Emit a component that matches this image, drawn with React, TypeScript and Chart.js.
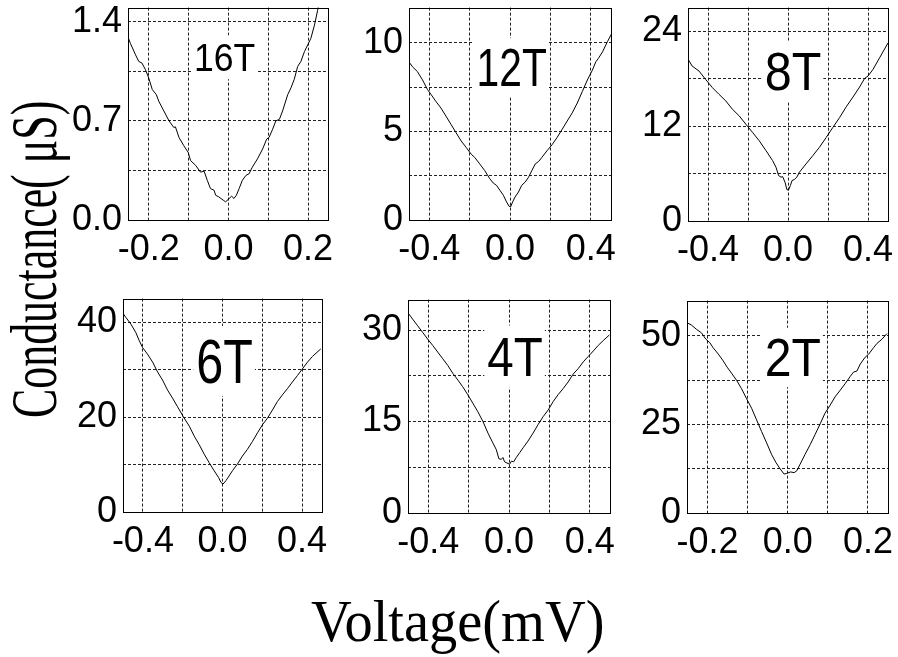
import React, { useEffect, useRef } from "react";
import { Chart, registerables } from "chart.js";

Chart.register(...registerables);

// Tunneling conductance traces: bias voltage (mV) and conductance (μS) at each field.
const v16T = [-0.254, -0.246, -0.233, -0.225, -0.217, -0.208, -0.2, -0.191, -0.181, -0.175, -0.162, -0.149, -0.137, -0.133, -0.124, -0.112, -0.101, -0.095, -0.082, -0.07, -0.061, -0.053, -0.045, -0.036, -0.032, -0.024, -0.013, -0.007, 0.002, 0.008, 0.014, 0.02, 0.027, 0.035, 0.044, 0.052, 0.06, 0.073, 0.086, 0.096, 0.102, 0.111, 0.119, 0.128, 0.136, 0.149, 0.157, 0.165, 0.174, 0.182, 0.191, 0.199, 0.207, 0.216, 0.224, 0.229];
const g16T = [1.306, 1.248, 1.166, 1.12, 1.108, 1.061, 1.003, 0.921, 0.886, 0.84, 0.77, 0.7, 0.653, 0.658, 0.583, 0.525, 0.478, 0.42, 0.385, 0.338, 0.345, 0.28, 0.222, 0.21, 0.175, 0.163, 0.14, 0.128, 0.152, 0.168, 0.152, 0.175, 0.222, 0.28, 0.315, 0.327, 0.373, 0.432, 0.502, 0.571, 0.583, 0.641, 0.7, 0.711, 0.77, 0.886, 0.933, 0.991, 1.085, 1.12, 1.19, 1.236, 1.283, 1.376, 1.481, 1.56];

const v12T = [-0.503, -0.483, -0.458, -0.433, -0.408, -0.392, -0.367, -0.342, -0.317, -0.292, -0.267, -0.242, -0.217, -0.192, -0.175, -0.15, -0.125, -0.1, -0.083, -0.067, -0.05, -0.033, -0.017, -0.005, 0.003, 0.013, 0.025, 0.042, 0.058, 0.075, 0.092, 0.108, 0.125, 0.142, 0.158, 0.183, 0.208, 0.233, 0.258, 0.283, 0.308, 0.333, 0.358, 0.383, 0.408, 0.425, 0.437, 0.458, 0.483, 0.503];
const g12T = [8.98, 8.66, 8.38, 7.91, 7.36, 7.11, 6.7, 6.33, 5.87, 5.4, 4.93, 4.47, 4.1, 3.72, 3.54, 3.17, 2.79, 2.33, 2.09, 1.96, 1.68, 1.4, 1.02, 0.78, 0.74, 1.02, 1.3, 1.58, 1.96, 2.14, 2.42, 2.79, 3.17, 3.31, 3.54, 3.91, 4.25, 4.66, 5.12, 5.59, 6.05, 6.61, 7.26, 7.91, 8.47, 8.94, 9.12, 9.5, 10.09, 10.52];

const v8T = [-0.504, -0.479, -0.445, -0.412, -0.378, -0.345, -0.311, -0.278, -0.244, -0.211, -0.177, -0.144, -0.11, -0.077, -0.06, -0.047, -0.035, -0.027, -0.015, -0.005, 0.003, 0.012, 0.02, 0.032, 0.044, 0.057, 0.09, 0.124, 0.157, 0.191, 0.224, 0.258, 0.291, 0.325, 0.358, 0.383, 0.4, 0.425, 0.458, 0.5];
const g8T = [20.65, 19.6, 18.97, 17.92, 16.87, 16.03, 15.19, 14.14, 13.3, 12.25, 11.2, 10.16, 8.9, 7.64, 6.8, 5.75, 5.54, 5.62, 4.91, 3.94, 3.94, 4.49, 5.12, 5.25, 5.54, 6.17, 7.22, 8.27, 9.32, 10.57, 11.83, 13.09, 14.44, 15.69, 16.95, 18.04, 18.34, 19.18, 20.65, 22.53];

const v6T = [-0.502, -0.485, -0.46, -0.435, -0.418, -0.402, -0.377, -0.351, -0.326, -0.301, -0.276, -0.251, -0.226, -0.197, -0.167, -0.142, -0.117, -0.092, -0.067, -0.042, -0.02, -0.008, 0.003, 0.017, 0.033, 0.05, 0.075, 0.1, 0.125, 0.151, 0.176, 0.201, 0.226, 0.251, 0.276, 0.301, 0.326, 0.351, 0.377, 0.402, 0.427, 0.452, 0.494];
const g6T = [42.0, 41.0, 39.6, 37.8, 36.1, 34.7, 33.3, 31.6, 29.5, 27.8, 25.7, 24.0, 22.2, 20.1, 18.1, 16.0, 14.2, 12.2, 10.4, 8.7, 7.3, 6.25, 5.9, 6.6, 7.6, 8.7, 10.1, 11.8, 13.2, 14.9, 16.7, 18.4, 19.8, 21.5, 23.3, 24.7, 26.0, 27.4, 28.8, 30.2, 31.6, 32.8, 34.4];

const v4T = [-0.502, -0.477, -0.452, -0.427, -0.402, -0.378, -0.353, -0.328, -0.303, -0.278, -0.253, -0.229, -0.204, -0.179, -0.154, -0.129, -0.104, -0.08, -0.063, -0.05, -0.038, -0.03, -0.022, -0.01, 0.003, 0.012, 0.023, 0.036, 0.053, 0.07, 0.094, 0.119, 0.144, 0.169, 0.194, 0.219, 0.243, 0.268, 0.293, 0.318, 0.343, 0.368, 0.393, 0.418, 0.442, 0.467, 0.497];
const g4T = [32.9, 31.8, 30.7, 29.6, 28.5, 27.5, 26.4, 25.3, 24.2, 22.9, 21.8, 20.7, 19.4, 18.0, 16.6, 15.0, 13.1, 11.5, 10.4, 8.9, 8.8, 9.1, 8.4, 8.2, 8.0, 8.5, 8.4, 9.1, 9.9, 10.7, 11.8, 13.1, 14.5, 15.8, 16.9, 18.3, 19.4, 20.4, 21.5, 22.8, 23.7, 24.8, 25.7, 26.6, 27.5, 28.3, 29.2];

const v2T = [-0.25, -0.24, -0.2275, -0.215, -0.204, -0.194, -0.186, -0.173, -0.161, -0.151, -0.14, -0.1275, -0.115, -0.1025, -0.09, -0.0775, -0.065, -0.0525, -0.04, -0.029, -0.019, -0.009, -0.0025, 0.0075, 0.016, 0.0225, 0.031, 0.043, 0.056, 0.068, 0.081, 0.093, 0.106, 0.118, 0.131, 0.143, 0.156, 0.164, 0.1725, 0.181, 0.193, 0.202, 0.214, 0.2225, 0.235, 0.2475];
const g2T = [53.7, 53.1, 51.9, 50.9, 49.1, 48.1, 46.7, 44.9, 43.0, 41.2, 39.5, 37.5, 35.1, 32.3, 29.6, 26.3, 23.0, 19.8, 16.5, 14.2, 12.5, 11.0, 11.2, 11.6, 11.4, 11.9, 13.8, 16.5, 19.3, 22.1, 25.2, 28.2, 30.5, 32.8, 34.7, 36.5, 38.6, 39.8, 40.1, 42.1, 44.0, 44.9, 46.7, 47.9, 49.1, 50.7];

// Grid lines and labelled ticks
const xGridNarrow = [-0.2, -0.1, 0, 0.1, 0.2];
const xLabelsNarrow = [-0.2, 0, 0.2];
const xGridWide = [-0.4, -0.2, 0, 0.2, 0.4];
const xLabelsWide = [-0.4, 0, 0.4];

const y16TGrid = [0, 0.35, 0.7, 1.05, 1.4];
const y16TLabels = [0, 0.7, 1.4];
const y12TGrid = [0, 2.5, 5, 7.5, 10];
const y12TLabels = [0, 5, 10];
const y8TGrid = [0, 6, 12, 18, 24];
const y8TLabels = [0, 12, 24];
const y6TGrid = [0, 10, 20, 30, 40];
const y6TLabels = [0, 20, 40];
const y4TGrid = [0, 7.5, 15, 22.5, 30];
const y4TLabels = [0, 15, 30];
const y2TGrid = [0, 12.5, 25, 37.5, 50];
const y2TLabels = [0, 25, 50];

const fieldNames = ["16T", "12T", "8T", "6T", "4T", "2T"];

const Y_TITLE = "Conductance( μS)";
const X_TITLE = "Voltage(mV)";

type Spec = {
  name: string;
  v: number[];
  g: number[];
  xMin: number;
  xMax: number;
  yMax: number;
  xGrid: number[];
  xLabels: number[];
  yGrid: number[];
  yLabels: number[];
  yDecimals: number;
  area: [number, number, number, number];
  tag: { dx: number; dy: number; size: number; sx: number };
};

const panels: Spec[] = [
  { name: fieldNames[0], v: v16T, g: g16T, xMin: -0.252, xMax: 0.25, yMax: 1.5, xGrid: xGridNarrow, xLabels: xLabelsNarrow, yGrid: y16TGrid, yLabels: y16TLabels, yDecimals: 1, area: [128, 5, 328, 220], tag: { dx: 66, dy: 63.3, size: 39.5, sx: 0.9 } },
  { name: fieldNames[1], v: v12T, g: g12T, xMin: -0.5, xMax: 0.5, yMax: 12, xGrid: xGridWide, xLabels: xLabelsWide, yGrid: y12TGrid, yLabels: y12TLabels, yDecimals: 0, area: [409, 5, 611, 220], tag: { dx: 67.5, dy: 78.3, size: 53, sx: 0.77 } },
  { name: fieldNames[2], v: v8T, g: g8T, xMin: -0.5, xMax: 0.5, yMax: 27, xGrid: xGridWide, xLabels: xLabelsWide, yGrid: y8TGrid, yLabels: y8TLabels, yDecimals: 0, area: [688, 5, 888, 221], tag: { dx: 76.7, dy: 82.3, size: 54.5, sx: 0.89 } },
  { name: fieldNames[3], v: v6T, g: g6T, xMin: -0.5, xMax: 0.5, yMax: 45, xGrid: xGridWide, xLabels: xLabelsWide, yGrid: y6TGrid, yLabels: y6TLabels, yDecimals: 0, area: [123, 296, 322, 512], tag: { dx: 73.3, dy: 84, size: 63, sx: 0.77 } },
  { name: fieldNames[4], v: v4T, g: g4T, xMin: -0.5, xMax: 0.5, yMax: 35, xGrid: xGridWide, xLabels: xLabelsWide, yGrid: y4TGrid, yLabels: y4TLabels, yDecimals: 0, area: [408, 297, 610, 513], tag: { dx: 79.3, dy: 76.3, size: 56, sx: 0.85 } },
  { name: fieldNames[5], v: v2T, g: g2T, xMin: -0.251, xMax: 0.25, yMax: 60, xGrid: xGridNarrow, xLabels: xLabelsNarrow, yGrid: y2TGrid, yLabels: y2TLabels, yDecimals: 0, area: [687, 298, 888, 513], tag: { dx: 77.7, dy: 75.3, size: 53.5, sx: 0.9 } },
];

const SANS = "'Liberation Sans', Arial, Helvetica, sans-serif";
const SERIF = "'Liberation Serif', 'Times New Roman', Times, serif";

const Y_AXIS_W = 80;
const X_AXIS_H = 50;
const PAD_T = 25;
const PAD_R = 25;

const near = (list: number[], v: number) => list.some((t) => Math.abs(t - v) < 1e-6);

function Panel({ spec }: { spec: Spec }) {
  const ref = useRef<HTMLCanvasElement>(null);
  const [L, T, R, B] = spec.area;
  const w = Y_AXIS_W + (R - L) + PAD_R;
  const h = PAD_T + (B - T) + X_AXIS_H;

  useEffect(() => {
    const canvas = ref.current;
    if (!canvas) return;

    // Field label in a white box sitting over the grid
    const tagPlugin = {
      id: "fieldTag",
      beforeDatasetsDraw(chart: any) {
        const { ctx, chartArea } = chart;
        const { dx, dy, size, sx } = spec.tag;
        ctx.save();
        ctx.font = `${size}px ${SANS}`;
        const tw = ctx.measureText(spec.name).width * sx;
        const x = chartArea.left + dx;
        const y = chartArea.top + dy;
        ctx.fillStyle = "#fff";
        ctx.fillRect(x - 3, y - size * 0.9, tw + 5, size * 1.11);
        ctx.translate(x, y);
        ctx.scale(sx, 1);
        ctx.fillStyle = "#000";
        ctx.textAlign = "left";
        ctx.textBaseline = "alphabetic";
        ctx.fillText(spec.name, 0, 0);
        ctx.restore();
      },
    };

    // Closed frame around the plotting area
    const framePlugin = {
      id: "frame",
      afterDatasetsDraw(chart: any) {
        const { ctx, chartArea } = chart;
        ctx.save();
        ctx.strokeStyle = "#000";
        ctx.lineWidth = 1;
        ctx.strokeRect(
          Math.round(chartArea.left) + 0.5,
          Math.round(chartArea.top) + 0.5,
          Math.round(chartArea.right - chartArea.left),
          Math.round(chartArea.bottom - chartArea.top)
        );
        ctx.restore();
      },
    };

    const chart = new Chart(canvas, {
      type: "line",
      data: {
        datasets: [
          {
            data: spec.v.map((x, i) => ({ x, y: spec.g[i] })),
            borderColor: "#000",
            borderWidth: 1,
            pointRadius: 0,
            tension: 0,
            fill: false,
          },
        ],
      },
      options: {
        animation: false,
        responsive: false,
        events: [],
        layout: { padding: { top: PAD_T, right: PAD_R, left: 0, bottom: 0 } },
        plugins: { legend: { display: false }, tooltip: { enabled: false } },
        scales: {
          x: {
            type: "linear",
            min: spec.xMin,
            max: spec.xMax,
            afterBuildTicks: (s: any) => {
              s.ticks = spec.xGrid.map((value) => ({ value }));
            },
            afterFit: (s: any) => {
              s.height = X_AXIS_H;
            },
            grid: { color: "#222", lineWidth: 1, drawTicks: false },
            border: { display: false, dash: [3, 2] },
            ticks: {
              autoSkip: false,
              maxRotation: 0,
              padding: 8,
              color: "#000",
              font: { family: SANS, size: 36 },
              callback: (val: any) => (near(spec.xLabels, Number(val)) ? Number(val).toFixed(1) : ""),
            },
          },
          y: {
            type: "linear",
            min: 0,
            max: spec.yMax,
            afterBuildTicks: (s: any) => {
              s.ticks = spec.yGrid.map((value) => ({ value }));
            },
            afterFit: (s: any) => {
              s.width = Y_AXIS_W;
            },
            grid: { color: "#222", lineWidth: 1, drawTicks: false },
            border: { display: false, dash: [3, 2] },
            ticks: {
              autoSkip: false,
              padding: 6,
              color: "#000",
              font: { family: SANS, size: 36 },
              callback: (val: any) => (near(spec.yLabels, Number(val)) ? Number(val).toFixed(spec.yDecimals) : ""),
            },
          },
        },
      },
      plugins: [tagPlugin, framePlugin],
    } as any);

    return () => chart.destroy();
  }, [spec]);

  return (
    <canvas
      ref={ref}
      width={w}
      height={h}
      style={{ position: "absolute", left: L - Y_AXIS_W, top: T - PAD_T, width: w, height: h }}
    />
  );
}

export default function App() {
  return (
    <div
      style={{
        position: "fixed",
        left: 0,
        top: 0,
        width: 898,
        height: 657,
        overflow: "hidden",
        background: "#fff",
      }}
    >
      {panels.map((p) => (
        <Panel key={p.name} spec={p} />
      ))}
      <div
        style={{
          position: "absolute",
          left: 1,
          top: 418,
          font: `66px ${SERIF}`,
          lineHeight: "66px",
          whiteSpace: "nowrap",
          color: "#000",
          transformOrigin: "left top",
          transform: "rotate(-90deg) scaleX(0.665)",
        }}
      >
        {Y_TITLE}
      </div>
      <div
        style={{
          position: "absolute",
          left: 311,
          top: 591,
          font: `60px ${SERIF}`,
          lineHeight: "60px",
          whiteSpace: "nowrap",
          color: "#000",
          transformOrigin: "left top",
          transform: "scaleX(0.94)",
        }}
      >
        {X_TITLE}
      </div>
    </div>
  );
}
